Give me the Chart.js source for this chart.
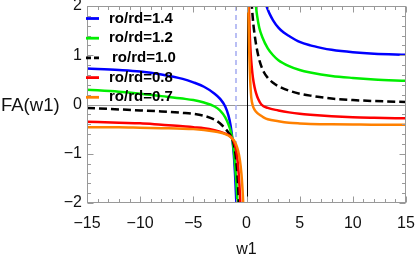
<!DOCTYPE html>
<html><head><meta charset="utf-8">
<script src="https://cdn.jsdelivr.net/npm/chart.js@4.4.0/dist/chart.umd.min.js"></script>
<style>html,body{margin:0;padding:0;background:#fff;}</style>
</head><body>
<canvas id="c" width="415" height="257"></canvas>
<script>
// ---- data ----
const ratios = ['1.4', '1.2', '1.0', '0.8', '0.7'];
const xTicks = [-15, -10, -5, 0, 5, 10, 15];
const yTicks = [-2, -1, 0, 1, 2];
const asymptoteX = -1;

const blueLX = [-15,-12,-10,-8,-6,-5,-4,-3,-2.5,-2,-1.7,-1.5,-1.35,-1.2,-1.08,-0.95,-0.9];
const blueLY = [0.73,0.70,0.67,0.61,0.52,0.45,0.36,0.22,0.12,-0.04,-0.22,-0.42,-0.66,-1.0,-1.4,-2.0,-2.3];
const blueRX = [1.7,1.8,2,2.2,2.5,3,3.5,4,5,6,7,8,10,12,15];
const blueRY = [2.15,2.05,1.93,1.83,1.71,1.56,1.46,1.39,1.27,1.20,1.15,1.11,1.06,1.03,1.01];

const greenLX = [-15,-12,-10,-8,-6,-5,-4,-3,-2.5,-2,-1.7,-1.5,-1.35,-1.2,-1.05,-0.95,-0.85,-0.8];
const greenLY = [0.30,0.26,0.22,0.17,0.12,0.09,0.04,-0.04,-0.12,-0.26,-0.40,-0.53,-0.67,-0.92,-1.3,-1.62,-2.0,-2.25];
const greenRX = [0.8,0.9,1.0,1.2,1.5,2,2.5,3,4,5,6,8,10,12,15];
const greenRY = [2.2,1.97,1.8,1.56,1.36,1.14,1.0,0.9,0.78,0.70,0.65,0.58,0.54,0.51,0.48];

const blackLX = [-15,-12,-10,-8,-6,-5,-4,-3,-2.5,-2,-1.7,-1.5,-1.35,-1.2,-1.05,-0.9,-0.8,-0.72,-0.68];
const blackLY = [-0.07,-0.10,-0.12,-0.14,-0.17,-0.19,-0.23,-0.31,-0.38,-0.49,-0.57,-0.63,-0.69,-0.8,-0.98,-1.3,-1.62,-2.0,-2.25];
const blackRX = [0.4,0.5,0.65,0.8,1.0,1.25,1.6,2,2.5,3,4,5,6,8,10,12,15];
const blackRY = [2.35,2.0,1.62,1.36,1.1,0.87,0.67,0.54,0.44,0.37,0.28,0.22,0.18,0.12,0.09,0.07,0.05];

const redLX = [-15,-12,-10,-8,-6,-5,-4,-3,-2.5,-2,-1.7,-1.5,-1.35,-1.2,-1.05,-0.9,-0.78,-0.67,-0.58,-0.54];
const redLY = [-0.35,-0.37,-0.38,-0.41,-0.44,-0.46,-0.48,-0.52,-0.55,-0.59,-0.62,-0.65,-0.69,-0.75,-0.85,-1.03,-1.28,-1.62,-2.0,-2.25];
const redRX = [0.18,0.22,0.3,0.4,0.5,0.6,0.75,0.9,1.1,1.4,2,3,4,5,6,8,10,12,15];
const redRY = [2.4,2.0,1.45,1.02,0.75,0.55,0.36,0.23,0.11,0.0,-0.07,-0.12,-0.16,-0.19,-0.21,-0.24,-0.26,-0.27,-0.28];

const orangeLX = [-15,-12,-10,-8,-6,-5,-4,-3,-2.5,-2,-1.7,-1.5,-1.35,-1.2,-1.0,-0.8,-0.62,-0.48,-0.38,-0.31,-0.28];
const orangeLY = [-0.46,-0.46,-0.47,-0.48,-0.49,-0.50,-0.52,-0.55,-0.57,-0.60,-0.63,-0.66,-0.69,-0.72,-0.8,-0.93,-1.13,-1.4,-1.7,-2.0,-2.2];
const orangeRX = [0.14,0.17,0.21,0.26,0.32,0.38,0.45,0.6,0.8,1.0,1.3,1.6,2,3,4,5,6,8,10,12,15];
const orangeRY = [2.4,2.0,1.55,1.05,0.64,0.36,0.14,-0.03,-0.12,-0.17,-0.22,-0.26,-0.30,-0.34,-0.37,-0.385,-0.395,-0.40,-0.405,-0.41,-0.41];

// ---- styling ----
const series = [
  {label: ratios[0], color: '#0000ff', dash: [], L: [blueLX, blueLY], R: [blueRX, blueRY], order: 4},
  {label: ratios[1], color: '#00ee00', dash: [], L: [greenLX, greenLY], R: [greenRX, greenRY], order: 3},
  {label: ratios[2], color: '#000000', dash: [8, 4], L: [blackLX, blackLY], R: [blackRX, blackRY], order: 2},
  {label: ratios[3], color: '#ff0000', dash: [], L: [redLX, redLY], R: [redRX, redRY], order: 1},
  {label: ratios[4], color: '#ff8000', dash: [], L: [orangeLX, orangeLY], R: [orangeRX, orangeRY], order: 0}
];
const pts = (xs, ys) => xs.map((x, i) => ({x: x, y: ys[i]}));
const datasets = [];
series.forEach(s => {
  ['L', 'R'].forEach(side => {
    datasets.push({
      label: 'ro/rd=' + s.label,
      data: pts(s[side][0], s[side][1]),
      borderColor: s.color, backgroundColor: s.color,
      borderWidth: 2.5, borderDash: s.dash,
      pointRadius: 0, showLine: true, fill: false,
      cubicInterpolationMode: 'monotone', clip: 0, order: s.order
    });
  });
});

const FONT = '"Liberation Sans", Arial, sans-serif';
const minus = v => String(v).replace('-', '\u2212');

const decor = {
  id: 'decor',
  beforeDatasetsDraw(chart) {
    const {ctx, chartArea: a, scales: {x, y}} = chart;
    ctx.save();
    const y0 = Math.round(y.getPixelForValue(0)) + 0.5;
    ctx.lineWidth = 1;
    ctx.strokeStyle = '#999';
    ctx.beginPath(); ctx.moveTo(a.left, y0); ctx.lineTo(a.right, y0); ctx.stroke();
    const x0 = Math.round(x.getPixelForValue(0)) + 0.5;
    ctx.strokeStyle = '#000';
    ctx.beginPath(); ctx.moveTo(x0, a.top); ctx.lineTo(x0, a.bottom); ctx.stroke();
    const xd = Math.round(x.getPixelForValue(asymptoteX));
    ctx.strokeStyle = '#a9b0f2'; ctx.lineWidth = 1.6; ctx.setLineDash([5, 4]);
    ctx.beginPath(); ctx.moveTo(xd, a.top); ctx.lineTo(xd, a.bottom); ctx.stroke();
    ctx.restore();
  },
  afterDatasetsDraw(chart) {
    const {ctx, chartArea: a, scales: {x, y}} = chart;
    ctx.save();
    ctx.strokeStyle = '#999'; ctx.lineWidth = 1;
    const L = Math.round(a.left) + 0.5, R = Math.round(a.right) - 0.5;
    const T = Math.round(a.top) + 0.5, B = Math.round(a.bottom) - 0.5;
    ctx.strokeRect(L, T, R - L, B - T);
    ctx.beginPath();
    for (let v = -15; v <= 15; v += 1) {
      const px = Math.round(x.getPixelForValue(v)) + 0.5;
      const len = (v % 5 === 0) ? 6 : 3.5;
      ctx.moveTo(px, B); ctx.lineTo(px, B - len);
      ctx.moveTo(px, T); ctx.lineTo(px, T + len);
    }
    for (let k = -10; k <= 10; k += 1) {
      const v = k / 5;
      const py = Math.round(y.getPixelForValue(v)) + 0.5;
      const len = (k % 5 === 0) ? 6 : 3.5;
      ctx.moveTo(L, py); ctx.lineTo(L + len, py);
      ctx.moveTo(R, py); ctx.lineTo(R - len, py);
    }
    ctx.stroke();
    ctx.restore();
  },
  afterDraw(chart) {
    const {ctx, chartArea: a, scales: {x, y}} = chart;
    ctx.save();
    // legend
    ctx.font = 'bold 15px ' + FONT;
    ctx.textBaseline = 'middle';
    series.forEach((s, i) => {
      const ry = a.top + 12.5 + i * 19.7;
      ctx.strokeStyle = s.color; ctx.lineWidth = 2.8;
      ctx.setLineDash(s.dash.length ? [5, 3] : []);
      ctx.beginPath(); ctx.moveTo(a.left - 1, ry); ctx.lineTo(a.left + 12, ry); ctx.stroke();
      ctx.fillStyle = '#000';
      ctx.fillText('ro/rd=' + s.label, a.left + 22 + (i === 2 ? 3 : 0), ry);
    });
    ctx.setLineDash([]);
    // axis titles
    ctx.font = '18.5px ' + FONT;
    ctx.fillStyle = '#111';
    ctx.textAlign = 'left';
    ctx.fillText('FA(w1)', 1, y.getPixelForValue(0) + 1);
    ctx.font = '16px ' + FONT;
    ctx.textAlign = 'center';
    ctx.fillText('w1', x.getPixelForValue(0), 250);
    ctx.restore();
  }
};

new Chart(document.getElementById('c'), {
  type: 'scatter',
  data: {datasets},
  options: {
    responsive: false, animation: false, devicePixelRatio: 1,
    layout: {padding: {top: 6, right: 9, left: 0, bottom: 0}},
    plugins: {legend: {display: false}, tooltip: {enabled: false}},
    scales: {
      x: {
        type: 'linear', min: -15, max: 15,
        grid: {display: false, drawTicks: false}, border: {display: false},
        afterBuildTicks: s => { s.ticks = xTicks.map(v => ({value: v})); },
        afterFit: s => { s.height = 54; s.paddingLeft = 0; s.paddingRight = 0; },
        ticks: {autoSkip: false, maxRotation: 0, padding: 11, color: '#111',
          font: {family: FONT, size: 16}, callback: v => minus(v)}
      },
      y: {
        type: 'linear', min: -2, max: 2,
        grid: {display: false, drawTicks: false}, border: {display: false},
        afterBuildTicks: s => { s.ticks = yTicks.map(v => ({value: v})); },
        afterFit: s => { s.width = 87; s.paddingTop = 0; s.paddingBottom = 0; },
        ticks: {autoSkip: false, padding: 5, color: '#111',
          font: {family: FONT, size: 16}, callback: v => minus(v)}
      }
    }
  },
  plugins: [decor]
});
</script>
</body></html>
